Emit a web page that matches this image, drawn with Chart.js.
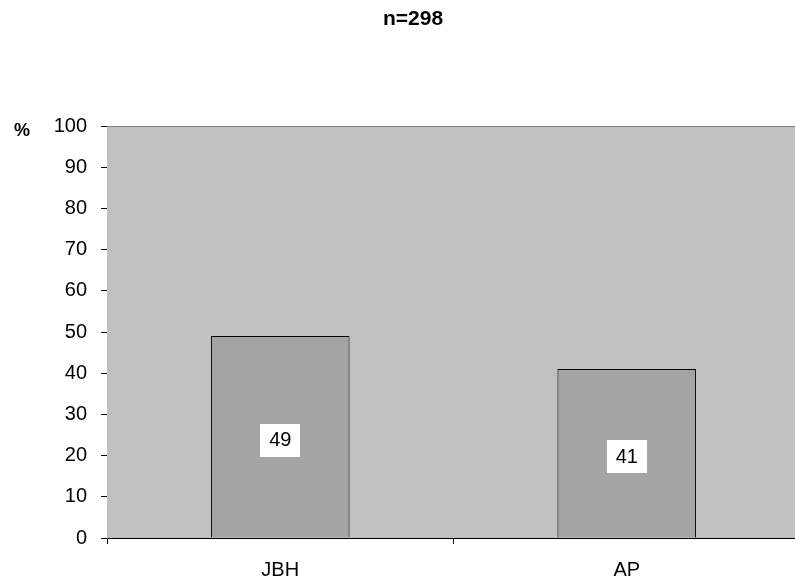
<!DOCTYPE html>
<html>
<head>
<meta charset="utf-8">
<script src="https://cdn.jsdelivr.net/npm/chart.js@4"></script>
<style>
  html, body { margin: 0; padding: 0; background: #fff; overflow: hidden; }
</style>
</head>
<body>
<canvas id="barChart" width="800" height="581"></canvas>
<script>
var categories = ['JBH', 'AP'];
var values = [49, 41];
var yTicks = [0, 10, 20, 30, 40, 50, 60, 70, 80, 90, 100];
var chartTitle = 'n=298';
var yTitle = '%';

var FONT = '"Liberation Sans", Arial, sans-serif';

// grey plot background and top border line
var plotBackground = {
    id: 'plotBackground',
    beforeDatasetsDraw: function (chart) {
        var a = chart.chartArea, ctx = chart.ctx;
        ctx.save();
        ctx.fillStyle = '#c0c0c0';
        ctx.fillRect(a.left, a.top, a.right - a.left, a.bottom - a.top);
        ctx.strokeStyle = '#808080';
        ctx.lineWidth = 1;
        ctx.beginPath();
        ctx.moveTo(a.left, a.top + 0.5);
        ctx.lineTo(a.right, a.top + 0.5);
        ctx.stroke();
        ctx.restore();
    }
};

// title, axis unit and value boxes in the middle of each bar
var textLayer = {
    id: 'textLayer',
    afterDraw: function (chart) {
        var ctx = chart.ctx;
        ctx.save();
        ctx.fillStyle = '#000';
        ctx.textAlign = 'center';
        ctx.textBaseline = 'middle';
        ctx.font = 'bold 21px ' + FONT;
        ctx.fillText(chartTitle, 413, 19);
        ctx.font = 'bold 18px ' + FONT;
        ctx.fillText(yTitle, 22, 131);

        var meta = chart.getDatasetMeta(0);
        ctx.font = '20px ' + FONT;
        meta.data.forEach(function (bar, i) {
            var cy = (bar.y + bar.base) / 2 + 3;
            ctx.fillStyle = '#fff';
            ctx.fillRect(Math.round(bar.x - 20), Math.round(cy - 16), 40, 33);
            ctx.fillStyle = '#000';
            ctx.fillText(String(values[i]), bar.x, cy + 1);
        });
        ctx.restore();
    }
};

var ctx = document.getElementById('barChart').getContext('2d');
var myChart = new Chart(ctx, {
    type: 'bar',
    data: {
        labels: categories,
        datasets: [{
            data: values,
            backgroundColor: '#a4a4a4',
            borderColor: '#000',
            borderWidth: 1,
            barPercentage: 0.4,
            categoryPercentage: 1
        }]
    },
    options: {
        responsive: false,
        animation: false,
        layout: { padding: { top: 126, left: 0, right: 0, bottom: 0 } },
        plugins: {
            legend: { display: false },
            tooltip: { enabled: false }
        },
        scales: {
            x: {
                grid: {
                    offset: true,
                    drawOnChartArea: false,
                    tickLength: 6,
                    color: '#000'
                },
                border: { color: '#000' },
                ticks: {
                    color: '#000',
                    font: { family: FONT, size: 20 },
                    padding: 14,
                    maxRotation: 0
                },
                afterFit: function (scale) { scale.height = 43; }
            },
            y: {
                min: 0,
                max: 100,
                afterBuildTicks: function (scale) {
                    scale.ticks = yTicks.map(function (v) { return { value: v }; });
                },
                grid: {
                    drawOnChartArea: false,
                    tickLength: 6,
                    color: '#000'
                },
                border: { color: '#404040' },
                ticks: {
                    color: '#000',
                    font: { family: FONT, size: 20 },
                    padding: 14
                },
                afterFit: function (scale) { scale.width = 107; }
            }
        }
    },
    plugins: [plotBackground, textLayer]
});
</script>
</body>
</html>
